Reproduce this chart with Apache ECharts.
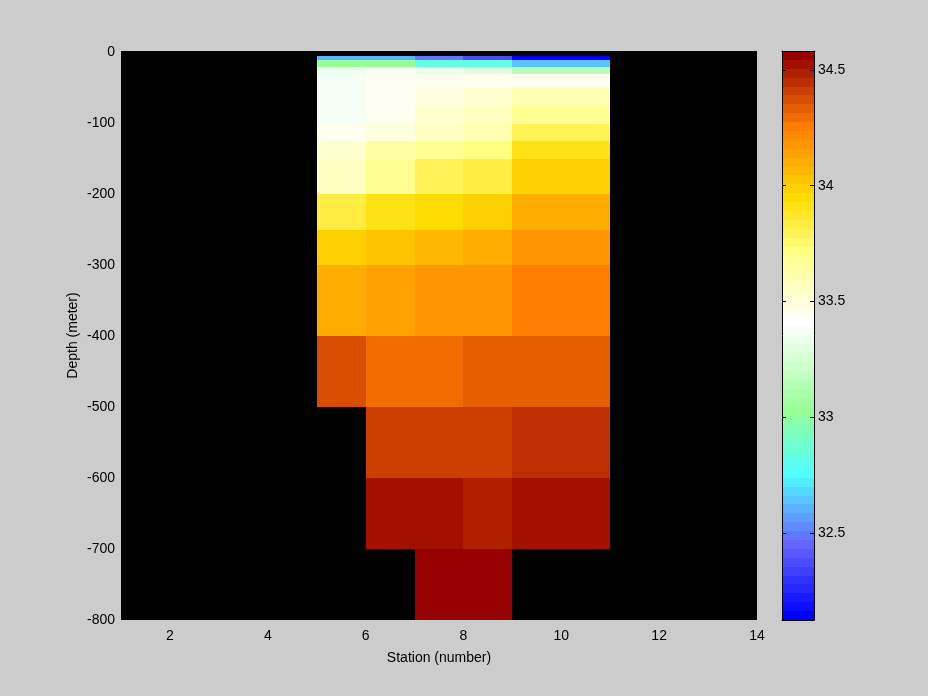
<!DOCTYPE html>
<html><head><meta charset="utf-8">
<script src="https://cdn.jsdelivr.net/npm/echarts@6/dist/echarts.min.js"></script>
<style>html,body{margin:0;padding:0;background:#cccccc;} #c{width:928px;height:696px;}</style>
</head><body><div id="c"></div>
<script>
// ---- data ----
const stationEdges = [5, 6, 7, 8, 9, 10, 11];
const depthEdges = [-5, -10, -20, -30, -50, -75, -100, -125, -150, -200, -250, -300, -400, -500, -600, -700, -800];
// salinity per station column, top layer first (null = no data)
const sta5  = [32.60, 33.03, 33.33, 33.37, 33.37, 33.37, 33.45, 33.53, 33.57, 33.83, 33.99, 34.10, 34.37, null, null, null];
const sta6  = [32.60, 33.03, 33.37, 33.45, 33.45, 33.45, 33.49, 33.64, 33.68, 33.91, 34.03, 34.14, 34.30, 34.41, 34.53, null];
const sta7  = [32.49, 32.83, 33.33, 33.45, 33.49, 33.53, 33.57, 33.68, 33.80, 33.95, 34.06, 34.18, 34.30, 34.41, 34.53, 34.56];
const sta8  = [32.37, 32.83, 33.30, 33.45, 33.53, 33.57, 33.60, 33.72, 33.83, 33.99, 34.10, 34.18, 34.33, 34.41, 34.49, 34.56];
const sta9  = [32.14, 32.64, 33.14, 33.45, 33.60, 33.68, 33.80, 33.91, 33.99, 34.10, 34.18, 34.26, 34.33, 34.45, 34.53, null];
const sta10 = [32.14, 32.64, 33.14, 33.45, 33.60, 33.68, 33.80, 33.91, 33.99, 34.10, 34.18, 34.26, 34.33, 34.45, 34.53, null];
const columns = [sta5, sta6, sta7, sta8, sta9, sta10];
const cLimits = [32.124, 34.582];
const xLimits = [1, 14];
const yLimits = [-800, 2.3];

// ---- colormap (64 levels, style) ----
const cmapAnchors = [
  [0, 0, 0, 255], [8, 100, 100, 255], [16, 80, 255, 255], [23, 150, 255, 150],
  [33, 255, 255, 255], [41, 255, 255, 130], [47, 255, 220, 0], [55, 255, 125, 0], [63, 150, 0, 0]
];
const NLEV = 64;
const cmap = [];
for (let i = 0; i < NLEV; i++) {
  let a = cmapAnchors[0], b = cmapAnchors[cmapAnchors.length - 1];
  for (let j = 0; j < cmapAnchors.length - 1; j++) {
    if (i >= cmapAnchors[j][0] && i <= cmapAnchors[j + 1][0]) { a = cmapAnchors[j]; b = cmapAnchors[j + 1]; break; }
  }
  const t = b[0] === a[0] ? 0 : (i - a[0]) / (b[0] - a[0]);
  const c = [1, 2, 3].map(k => Math.round(a[k] + (b[k] - a[k]) * t));
  cmap.push('rgb(' + c.join(',') + ')');
}
function colorFor(v) {
  let idx = Math.floor((v - cLimits[0]) / (cLimits[1] - cLimits[0]) * NLEV);
  idx = Math.max(0, Math.min(NLEV - 1, idx));
  return cmap[idx];
}

// ---- build series data ----
const cells = [];
columns.forEach((col, c) => {
  col.forEach((v, r) => {
    if (v !== null) cells.push([stationEdges[c], stationEdges[c + 1], depthEdges[r], depthEdges[r + 1], v]);
  });
});
const barLevels = [];
for (let i = 0; i < NLEV; i++) {
  const lo = cLimits[0] + (cLimits[1] - cLimits[0]) * i / NLEV;
  const hi = cLimits[0] + (cLimits[1] - cLimits[0]) * (i + 1) / NLEV;
  barLevels.push([0, 1, lo, hi, i]);
}

const FONT = 'Liberation Sans';
const txt = { color: '#000', fontSize: 14, fontFamily: FONT };

function rectItem(api, color) {
  const p0 = api.coord([api.value(0), api.value(2)]);
  const p1 = api.coord([api.value(1), api.value(3)]);
  const x0 = Math.round(Math.min(p0[0], p1[0])), x1 = Math.round(Math.max(p0[0], p1[0]));
  const y0 = Math.round(Math.min(p0[1], p1[1])), y1 = Math.round(Math.max(p0[1], p1[1]));
  return { type: 'rect', shape: { x: x0, y: y0, width: x1 - x0, height: y1 - y0 }, style: { fill: color } };
}

const chart = echarts.init(document.getElementById('c'), null, { renderer: 'canvas' });
chart.setOption({
  animation: false,
  backgroundColor: '#cccccc',
  grid: [
    { left: 121, top: 51, width: 636, height: 569, show: true, backgroundColor: '#000', borderWidth: 0 },
    { left: 782, top: 51, width: 32, height: 569, show: false }
  ],
  xAxis: [
    { gridIndex: 0, type: 'value', min: xLimits[0], max: xLimits[1], interval: 1,
      axisLine: { show: false }, axisTick: { show: false }, splitLine: { show: false },
      axisLabel: Object.assign({ margin: 9, formatter: v => (v % 2 === 0 ? String(v) : '') }, txt),
      name: 'Station (number)', nameLocation: 'middle', nameGap: 31, nameMoveOverlap: false, nameTextStyle: txt },
    { gridIndex: 1, type: 'value', min: 0, max: 1, position: 'bottom', z: 10,
      axisLine: { show: true, onZero: false, lineStyle: { color: '#000', width: 1 } },
      axisTick: { show: false }, axisLabel: { show: false }, splitLine: { show: false } },
    { gridIndex: 1, type: 'value', min: 0, max: 1, position: 'top', z: 10,
      axisLine: { show: true, onZero: false, lineStyle: { color: '#000', width: 1 } },
      axisTick: { show: false }, axisLabel: { show: false }, splitLine: { show: false } }
  ],
  yAxis: [
    { gridIndex: 0, type: 'value', min: yLimits[0], max: yLimits[1], interval: 100,
      axisLine: { show: false }, axisTick: { show: false }, splitLine: { show: false },
      axisLabel: Object.assign({ margin: 6, showMaxLabel: false }, txt),
      name: 'Depth (meter)', nameLocation: 'middle', nameGap: 41, nameRotate: 90, nameMoveOverlap: false, nameTextStyle: txt },
    { gridIndex: 1, type: 'value', min: cLimits[0], max: cLimits[1], splitNumber: 5, position: 'left', z: 10,
      axisLine: { show: true, onZero: false, lineStyle: { color: '#000', width: 1 } },
      axisTick: { show: true, inside: true, length: 4, lineStyle: { color: '#000' } },
      axisLabel: { show: false }, splitLine: { show: false } },
    { gridIndex: 1, type: 'value', min: cLimits[0], max: cLimits[1], splitNumber: 5, position: 'right', z: 10,
      axisLine: { show: true, onZero: false, lineStyle: { color: '#000', width: 1 } },
      axisTick: { show: true, inside: true, length: 4, lineStyle: { color: '#000' } },
      axisLabel: Object.assign({ margin: 4, showMinLabel: false, showMaxLabel: false }, txt),
      splitLine: { show: false } }
  ],
  series: [
    { type: 'custom', xAxisIndex: 0, yAxisIndex: 0, data: cells,
      encode: { x: [0, 1], y: [2, 3] },
      renderItem: (params, api) => rectItem(api, colorFor(api.value(4))) },
    { type: 'custom', xAxisIndex: 1, yAxisIndex: 1, data: barLevels,
      encode: { x: [0, 1], y: [2, 3] },
      renderItem: (params, api) => rectItem(api, cmap[api.value(4)]) }
  ]
});
</script>
</body></html>
